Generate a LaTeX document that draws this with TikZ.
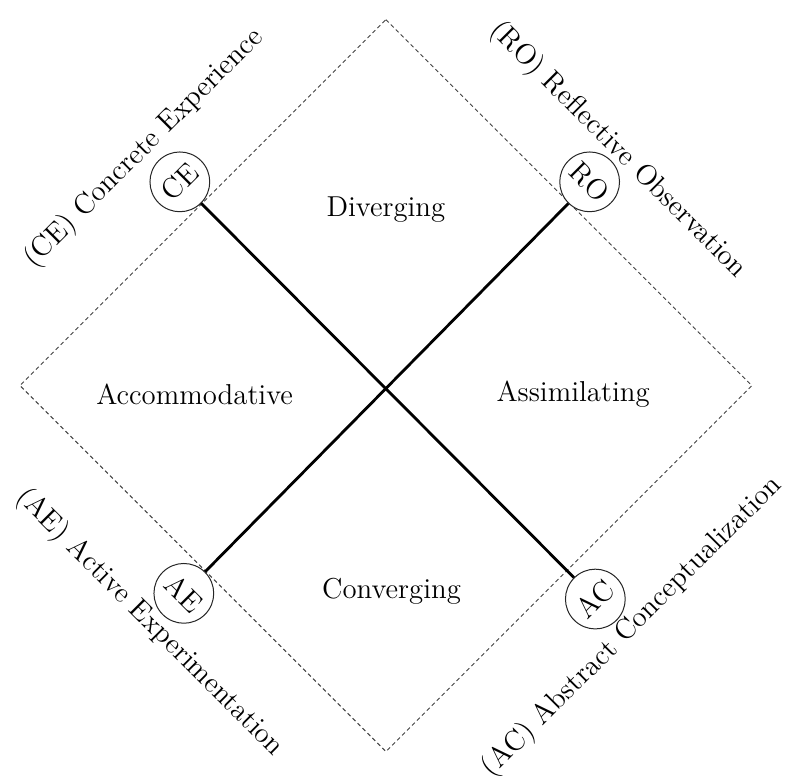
\documentclass[tikz,border=0pt]{standalone}
\usetikzlibrary{positioning}
\tikzset{
  mode/.style={circle,draw=black!85,fill=white,line width=0.5pt,minimum size=1.05cm,inner sep=0pt,font=\Large},
  axis/.style={font=\Large},
  region/.style={font=\Large},
  link/.style={line width=1.4pt}
}
\begin{document}
\begin{tikzpicture}
\useasboundingbox (-6.78,-6.985) rectangle (7.03,6.775);
\draw [black!75,line width=0.5pt,dash pattern=on 2pt off 1.5pt](0,6.43) -- (6.43,0) -- (0,-6.43) -- (-6.43,0) -- cycle;
\node [mode,rotate=45] (CE) at (-3.62,3.58) {CE};
\node [mode,rotate=-45] (RO) at (3.58,3.58) {RO};
\node [mode,rotate=-45] (AE) at (-3.55,-3.65) {AE};
\node [mode,rotate=45] (AC) at (3.68,-3.75) {AC};
\draw [link](CE) -- (AC);
\draw [link](RO) -- (AE);
\node [axis,rotate=45] at (-4.25,4.17) {(CE) Concrete Experience};
\node [axis,rotate=-45] at (4.08,4.14) {(RO) Reflective Observation};
\node [axis,rotate=-45] at (-4.15,-4.16) {(AE) Active Experimentation};
\node [axis,rotate=45] at (4.33,-4.24) {(AC) Abstract Conceptualization};
\node [region] at (0,3.1) {Diverging};
\node [region] at (-3.36,-0.15) {Accommodative};
\node [region] at (3.29,-0.15) {Assimilating};
\node [region] at (0.1,-3.62) {Converging};
\end{tikzpicture}
\end{document}
